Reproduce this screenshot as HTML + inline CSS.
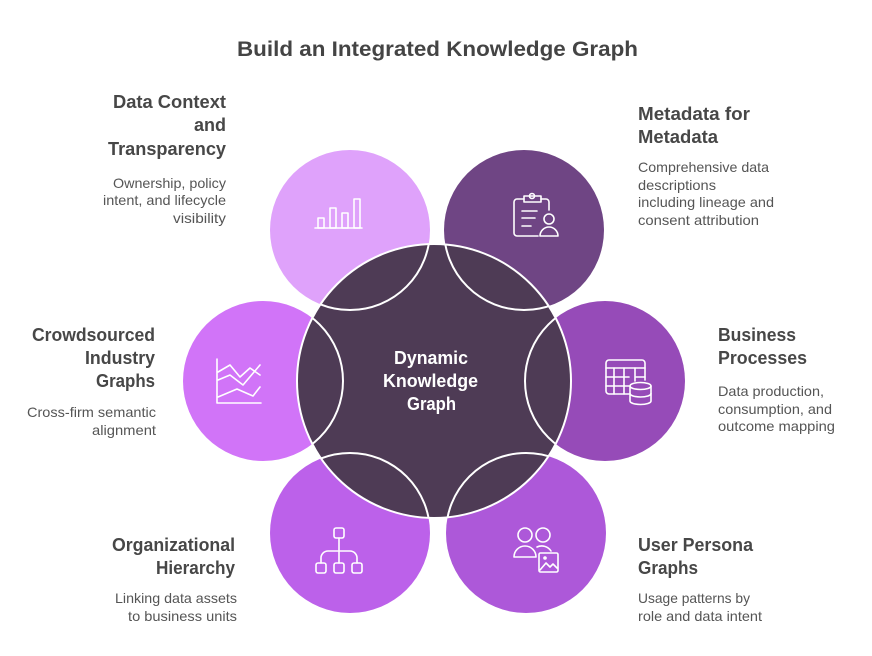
<!DOCTYPE html>
<html><head><meta charset="utf-8"><style>
html,body{margin:0;padding:0;background:#fff;}
svg{display:block;}
text{font-family:"Liberation Sans",Arial,sans-serif;}
.h{font-weight:bold;font-size:18px;fill:#474747;}
.b{font-size:14px;fill:#555;}
</style></head><body>
<svg width="872" height="656" viewBox="0 0 872 656" xmlns="http://www.w3.org/2000/svg">
<defs>
<clipPath id="cc"><circle cx="434" cy="381" r="137"/></clipPath>
</defs>
<rect width="872" height="656" fill="#fff"/>
<text x="237" y="56" font-weight="bold" font-size="21" fill="#444" textLength="401" lengthAdjust="spacingAndGlyphs">Build an Integrated Knowledge Graph</text>

<!-- outer circles -->
<circle cx="350" cy="230" r="80" fill="#DFA2FB"/>
<circle cx="524" cy="230" r="80" fill="#6F4584"/>
<circle cx="263" cy="381" r="80" fill="#D174F8"/>
<circle cx="605" cy="381" r="80" fill="#964BB8"/>
<circle cx="350" cy="533" r="80" fill="#BC61EA"/>
<circle cx="526" cy="533" r="80" fill="#AD58D9"/>

<!-- center -->
<circle cx="434" cy="381" r="137" fill="#4E3B55" stroke="#fff" stroke-width="2"/>
<g clip-path="url(#cc)" fill="none" stroke="#fff" stroke-width="2">
<circle cx="350" cy="230" r="80"/>
<circle cx="524" cy="230" r="80"/>
<circle cx="263" cy="381" r="80"/>
<circle cx="605" cy="381" r="80"/>
<circle cx="350" cy="533" r="80"/>
<circle cx="526" cy="533" r="80"/>
</g>
<text class="h" style="fill:#fff"><tspan x="394" y="364" textLength="74" lengthAdjust="spacingAndGlyphs">Dynamic</tspan><tspan x="383" y="387" textLength="95" lengthAdjust="spacingAndGlyphs">Knowledge</tspan><tspan x="407" y="410" textLength="49" lengthAdjust="spacingAndGlyphs">Graph</tspan></text>

<!-- icons -->
<g fill="none" stroke="#fff" stroke-width="1.6" stroke-linejoin="round" stroke-linecap="round">
<!-- bar chart -->
<line x1="315" y1="228" x2="362" y2="228"/>
<rect x="318" y="218" width="6" height="10"/>
<rect x="330" y="208" width="6" height="20"/>
<rect x="342" y="213" width="6" height="15"/>
<rect x="354" y="199" width="6" height="29"/>
<!-- clipboard person -->
<path d="M524 199 H517 a3 3 0 0 0 -3 3 V233 a3 3 0 0 0 3 3 H538"/>
<path d="M541 199 H546 a3 3 0 0 1 3 3 V210"/>
<path d="M524 196 H541 V202 H524 Z"/>
<circle cx="532" cy="196" r="2.5"/>
<line x1="522" y1="211" x2="537" y2="211"/>
<line x1="522" y1="218" x2="535" y2="218"/>
<line x1="522" y1="226" x2="531" y2="226"/>
<circle cx="549" cy="219" r="5"/>
<path d="M540 236 a9 9 0 0 1 18 0 Z"/>
<!-- line chart -->
<polyline points="217,359 217,403 261,403"/>
<polyline points="218,372 230,365 240,377 250,368 260,375"/>
<polyline points="218,380 230,375 243,385 260,365"/>
<polyline points="218,397 237,389 253,396 260,387"/>
<!-- table + db -->
<path d="M629 394 H609 a3 3 0 0 1 -3 -3 V363 a3 3 0 0 1 3 -3 H642 a3 3 0 0 1 3 3 V380"/>
<line x1="606" y1="368" x2="645" y2="368"/>
<line x1="606" y1="377" x2="629" y2="377"/>
<line x1="606" y1="386" x2="629" y2="386"/>
<line x1="636" y1="377" x2="645" y2="377"/>
<line x1="614" y1="368" x2="614" y2="394"/>
<line x1="624" y1="368" x2="624" y2="394"/>
<line x1="635" y1="368" x2="635" y2="381"/>
<ellipse cx="640.5" cy="386" rx="10.5" ry="3.5"/>
<path d="M630 386 V401 a10.5 3.5 0 0 0 21 0 V386"/>
<path d="M630 393.5 a10.5 3.5 0 0 0 21 0"/>
<!-- hierarchy -->
<rect x="334" y="528" width="10" height="10" rx="2"/>
<line x1="339" y1="538" x2="339" y2="563"/>
<path d="M321 563 V558 a7 7 0 0 1 7 -7 H350 a7 7 0 0 1 7 7 V563"/>
<rect x="316" y="563" width="10" height="10" rx="2"/>
<rect x="334" y="563" width="10" height="10" rx="2"/>
<rect x="352" y="563" width="10" height="10" rx="2"/>
<!-- persons + image -->
<circle cx="525" cy="535" r="7"/>
<path d="M514 557 a11 11 0 0 1 22 0 Z"/>
<circle cx="543" cy="535" r="7"/>
<path d="M537 547 a11 11 0 0 1 14 4"/>
<rect x="539" y="553" width="19" height="19" rx="1.5"/>
<circle cx="545" cy="558" r="1"/>
<polyline points="540,570 546,563 550,567 553,564 557,568"/>
</g>

<!-- labels -->
<text class="h">
<tspan x="113" y="108" textLength="113" lengthAdjust="spacingAndGlyphs">Data Context</tspan>
<tspan x="194" y="131" textLength="32" lengthAdjust="spacingAndGlyphs">and</tspan>
<tspan x="108" y="155" textLength="118" lengthAdjust="spacingAndGlyphs">Transparency</tspan></text>
<text class="b">
<tspan x="113" y="188" textLength="113" lengthAdjust="spacingAndGlyphs">Ownership, policy</tspan>
<tspan x="103" y="205" textLength="123" lengthAdjust="spacingAndGlyphs">intent, and lifecycle</tspan>
<tspan x="173" y="223" textLength="53" lengthAdjust="spacingAndGlyphs">visibility</tspan></text>

<text class="h">
<tspan x="638" y="120" textLength="112" lengthAdjust="spacingAndGlyphs">Metadata for</tspan>
<tspan x="638" y="143" textLength="80" lengthAdjust="spacingAndGlyphs">Metadata</tspan></text>
<text class="b">
<tspan x="638" y="172" textLength="131" lengthAdjust="spacingAndGlyphs">Comprehensive data</tspan>
<tspan x="638" y="190" textLength="78" lengthAdjust="spacingAndGlyphs">descriptions</tspan>
<tspan x="638" y="207" textLength="136" lengthAdjust="spacingAndGlyphs">including lineage and</tspan>
<tspan x="638" y="225" textLength="121" lengthAdjust="spacingAndGlyphs">consent attribution</tspan></text>

<text class="h">
<tspan x="32" y="341" textLength="123" lengthAdjust="spacingAndGlyphs">Crowdsourced</tspan>
<tspan x="85" y="364" textLength="70" lengthAdjust="spacingAndGlyphs">Industry</tspan>
<tspan x="96" y="387" textLength="59" lengthAdjust="spacingAndGlyphs">Graphs</tspan></text>
<text class="b">
<tspan x="27" y="417" textLength="129" lengthAdjust="spacingAndGlyphs">Cross-firm semantic</tspan>
<tspan x="92" y="435" textLength="64" lengthAdjust="spacingAndGlyphs">alignment</tspan></text>

<text class="h">
<tspan x="718" y="341" textLength="78" lengthAdjust="spacingAndGlyphs">Business</tspan>
<tspan x="718" y="364" textLength="89" lengthAdjust="spacingAndGlyphs">Processes</tspan></text>
<text class="b">
<tspan x="718" y="396" textLength="106" lengthAdjust="spacingAndGlyphs">Data production,</tspan>
<tspan x="718" y="414" textLength="114" lengthAdjust="spacingAndGlyphs">consumption, and</tspan>
<tspan x="718" y="431" textLength="117" lengthAdjust="spacingAndGlyphs">outcome mapping</tspan></text>

<text class="h">
<tspan x="112" y="551" textLength="123" lengthAdjust="spacingAndGlyphs">Organizational</tspan>
<tspan x="156" y="574" textLength="79" lengthAdjust="spacingAndGlyphs">Hierarchy</tspan></text>
<text class="b">
<tspan x="115" y="603" textLength="122" lengthAdjust="spacingAndGlyphs">Linking data assets</tspan>
<tspan x="128" y="621" textLength="109" lengthAdjust="spacingAndGlyphs">to business units</tspan></text>

<text class="h">
<tspan x="638" y="551" textLength="115" lengthAdjust="spacingAndGlyphs">User Persona</tspan>
<tspan x="638" y="574" textLength="60" lengthAdjust="spacingAndGlyphs">Graphs</tspan></text>
<text class="b">
<tspan x="638" y="603" textLength="112" lengthAdjust="spacingAndGlyphs">Usage patterns by</tspan>
<tspan x="638" y="621" textLength="124" lengthAdjust="spacingAndGlyphs">role and data intent</tspan></text>
</svg>
</body></html>
